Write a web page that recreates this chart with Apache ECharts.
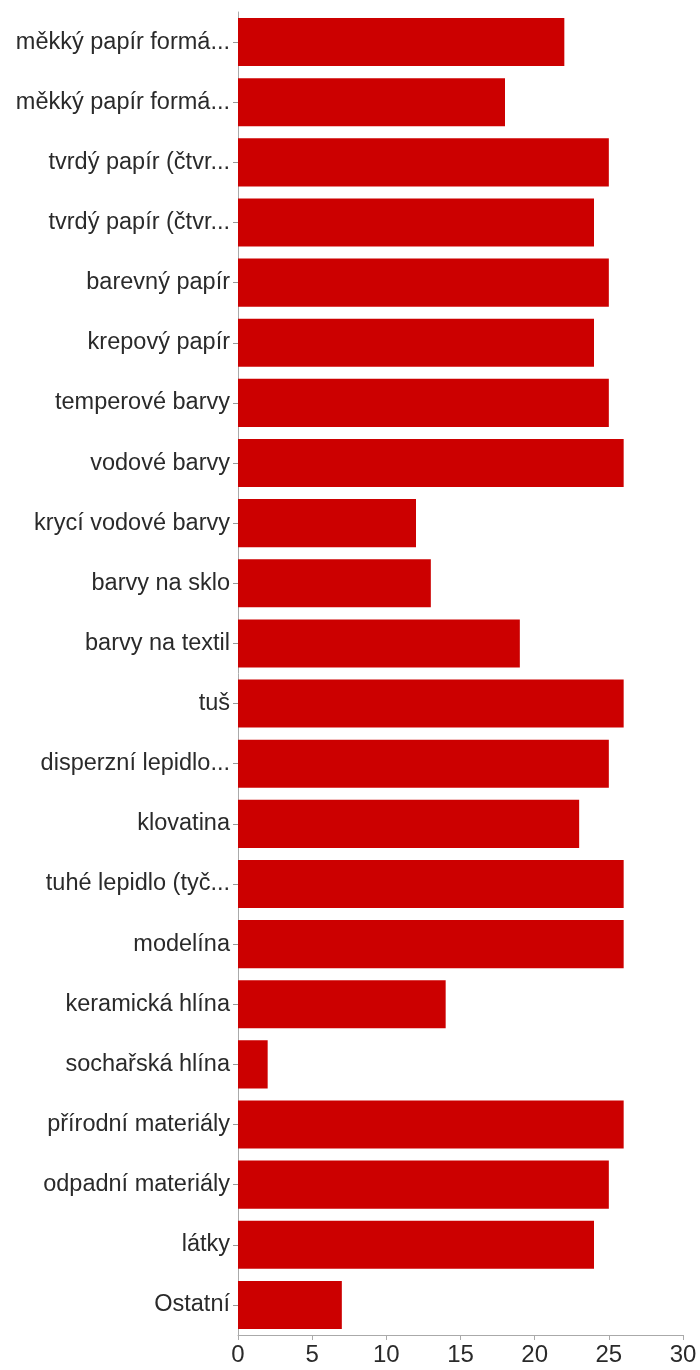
<!DOCTYPE html>
<html>
<head>
<meta charset="utf-8">
<script src="https://cdn.jsdelivr.net/npm/echarts@6/dist/echarts.min.js"></script>
<style>
html,body{margin:0;padding:0;background:#fff;}
#chart{width:700px;height:1370px;}
</style>
</head>
<body>
<div id="chart"></div>
<script>
const categories = [
  "měkký papír formá...",
  "měkký papír formá...",
  "tvrdý papír (čtvr...",
  "tvrdý papír (čtvr...",
  "barevný papír",
  "krepový papír",
  "temperové barvy",
  "vodové barvy",
  "krycí vodové barvy",
  "barvy na sklo",
  "barvy na textil",
  "tuš",
  "disperzní lepidlo...",
  "klovatina",
  "tuhé lepidlo (tyč...",
  "modelína",
  "keramická hlína",
  "sochařská hlína",
  "přírodní materiály",
  "odpadní materiály",
  "látky",
  "Ostatní"
];
const values = [22, 18, 25, 24, 25, 24, 25, 26, 12, 13, 19, 26, 25, 23, 26, 26, 14, 2, 26, 25, 24, 7];
const xTicks = [0, 5, 10, 15, 20, 25, 30];

const chart = echarts.init(document.getElementById('chart'), null, {renderer: 'canvas'});
chart.setOption({
  animation: false,
  backgroundColor: '#ffffff',
  grid: {left: 238, right: 17, top: 12, bottom: 35, containLabel: false},
  xAxis: {
    type: 'value',
    min: xTicks[0],
    max: xTicks[xTicks.length - 1],
    interval: 5,
    splitLine: {show: false},
    axisLine: {show: true, lineStyle: {color: '#aaaaaa', width: 1}},
    axisTick: {show: true, length: 5, lineStyle: {color: '#aaaaaa'}},
    axisLabel: {color: '#2a2a2a', fontSize: 24, fontFamily: 'Liberation Sans, Arial, sans-serif', margin: 8}
  },
  yAxis: {
    type: 'category',
    data: categories,
    inverse: true,
    axisLine: {show: true, lineStyle: {color: '#aaaaaa', width: 1}},
    axisTick: {show: true, length: 5, alignWithLabel: true, lineStyle: {color: '#999999'}},
    axisLabel: {color: '#2a2a2a', fontSize: 23.5, fontFamily: 'Liberation Sans, Arial, sans-serif', margin: 8, interval: 0}
  },
  series: [{
    type: 'bar',
    data: values,
    barCategoryGap: '20%',
    itemStyle: {color: '#cc0000'}
  }]
});
</script>
</body>
</html>
